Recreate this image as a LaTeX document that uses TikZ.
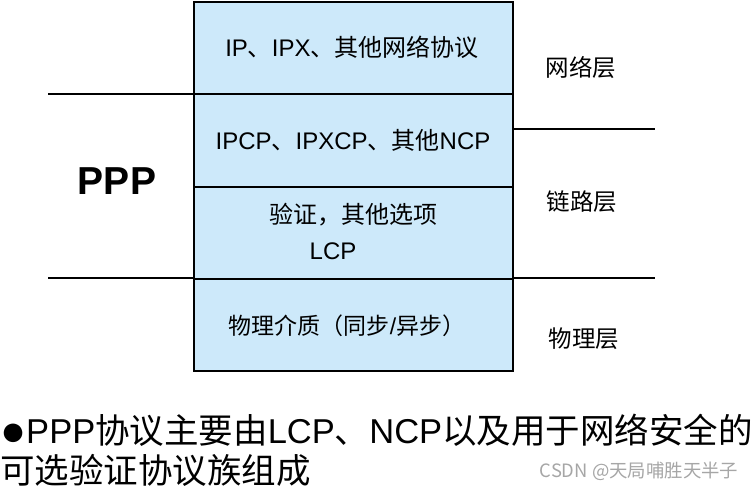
\documentclass[tikz,border=0pt]{standalone}
\usepackage{fontspec}
\setmainfont{Liberation Sans}
\newfontfamily\cjk{Noto Sans CJK SC}
\definecolor{layerblue}{RGB}{205,233,250}
\begin{document}
\begin{tikzpicture}[x=1pt,y=-1pt,
  layer/.style={draw=black,line width=1.8pt,fill=layerblue,minimum width=319pt,inner sep=0pt,anchor=north west},
  boxtext/.style={font=\fontsize{24}{26}\selectfont,inner sep=0pt},
  sidetext/.style={font=\fontsize{23.5}{25}\selectfont\cjk,inner sep=0pt},
  rule/.style={line width=1.5pt}]
\useasboundingbox (0,0) rectangle (753,493);
\node[layer,minimum height=92pt] (l1) at (193,1) {};
\node[layer,minimum height=93pt] (l2) at (193,93) {};
\node[layer,minimum height=92pt] (l3) at (193,186) {};
\node[layer,minimum height=92pt] (l4) at (193,278) {};
\node[boxtext] (t1) at (352,47) {IP{\cjk 、}IPX{\cjk 、其他网络协议}};
\node[boxtext] (t2) at (353,140) {IPCP{\cjk 、}IPXCP{\cjk 、其他}NCP};
\node[boxtext] (t3) at (353,215) {\cjk 验证，其他选项};
\node[boxtext] (t4) at (333,251) {LCP};
\node[boxtext,font=\fontsize{23}{26}\selectfont] (t5) at (347,326) {{\cjk 物理介质（同步}/{\cjk 异步）}};
\node[sidetext] (s1) at (581,68) {网络层};
\node[sidetext] (s2) at (582,202) {链路层};
\node[sidetext] (s3) at (584,339) {物理层};
\node[font=\fontsize{39}{40}\selectfont\bfseries,inner sep=0pt] (ppp) at (117,181) {PPP};
\coordinate (a1) at (48,94);
\coordinate (a2) at (48,278);
\coordinate (b1) at (655,129);
\coordinate (b2) at (655,278);
\draw[rule] (a1) -- (a1 -| l1.west);
\draw[rule] (a2) -- (a2 -| l4.west);
\draw[rule] (b1 -| l2.east) -- (b1);
\draw[rule] (b2 -| l4.east) -- (b2);
\node[font=\fontsize{34.5}{40}\selectfont,inner sep=0pt,anchor=west] (n1) at (0,430) {\raisebox{-2pt}{\scalebox{1.25}{●}}PPP{\cjk 协议主要由}LCP{\cjk 、}NCP{\cjk 以及用于网络安全的}};
\node[font=\fontsize{34.5}{40}\selectfont\cjk,inner sep=0pt,anchor=west] (n2) at (0,470) {可选验证协议族组成};
\node[font=\fontsize{18.4}{20}\selectfont\cjk,text=black!35,inner sep=0pt] (wm) at (639,471) {CSDN @天局哺胜天半子};
\end{tikzpicture}
\end{document}
